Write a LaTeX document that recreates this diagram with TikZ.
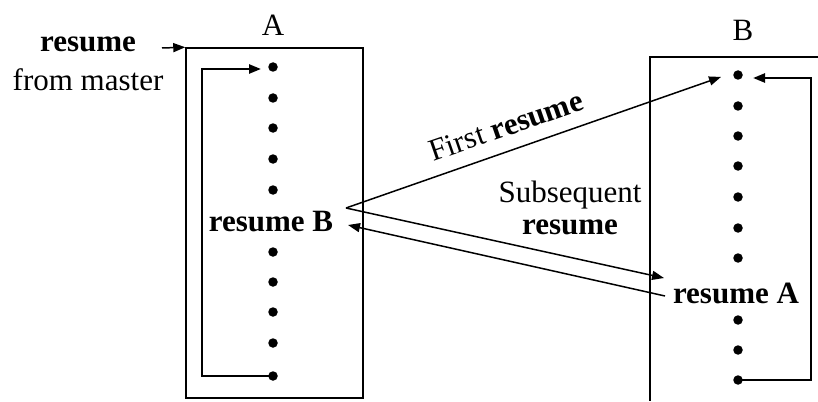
\documentclass[tikz,border=0pt]{standalone}
\usepackage{fontspec}
\setmainfont{Liberation Serif}
\usetikzlibrary{arrows.meta}
\begin{document}
\begin{tikzpicture}[x=1pt,y=-1pt,
  every node/.style={font=\fontsize{31pt}{37pt}\selectfont, inner sep=0pt},
  bold/.style={font=\fontsize{31pt}{37pt}\selectfont\bfseries},
  stmt/.style={circle, fill=black, minimum size=9.5pt, inner sep=0pt},
  frame/.style={draw, line width=1.5pt},
  flow/.style={line width=1.5pt, -{Triangle[length=12pt,width=9pt]}},
  loopline/.style={line width=2.4pt, -{Triangle[length=12pt,width=9pt]}}]
\useasboundingbox (0,0) rectangle (818,401);

% coroutine A
\node[frame, minimum width=177pt, minimum height=350pt] (boxA) at (274.5,223) {};
\node (labA) at (273,25) {A};
\foreach \i/\y in {1/67,2/98,3/128,4/159,5/190,6/252,7/282,8/312,9/343,10/376}
  \node[stmt] (a\i) at (273,\y) {};
\node[bold] (rB) at (271,222) {resume B};

% entry from the master
\node[bold] (res) at (88,44) {resume};
\node (master) at (88,80) {from master};
\coordinate (inA) at (162,48);
\draw[flow] (inA) -- (boxA.north west);

% coroutine B (frame runs off the page)
\draw[line width=1.5pt] (818,57) -- (650,57) -- (650,401);
\node (labB) at (743,30) {B};
\foreach \i/\y in {1/75,2/106,3/136,4/166,5/197,6/228,7/258,8/320,9/350,10/380}
  \node[stmt] (b\i) at (738,\y) {};
\node[bold] (rA) at (736,293) {resume A};

% loops inside each coroutine
\draw[loopline, shorten >=12pt] (a10.center) -- ++(-71,0) |- ([yshift=-2pt]a1.center);
\draw[loopline, shorten >=15pt] (b10.center) -- ++(73,0) |- ([yshift=-3pt]b1.center);

% transfers between A and B
\coordinate (apex) at (346,208);
\coordinate (subEnd) at (664,278);
\coordinate (retStart) at (665,296);
\coordinate (retEnd) at (348,225);
\draw[flow, shorten >=18pt] (apex) -- ([yshift=4pt]b1.center);
\node[rotate=19] (first) at (506,126) {First \textbf{resume}};
\draw[flow] (apex) -- (subEnd);
\draw[flow] (retStart) -- (retEnd);
\node (subs) at (570,195) {Subsequent};
\node[bold] (subres) at (570,227) {resume};
\end{tikzpicture}
\end{document}
